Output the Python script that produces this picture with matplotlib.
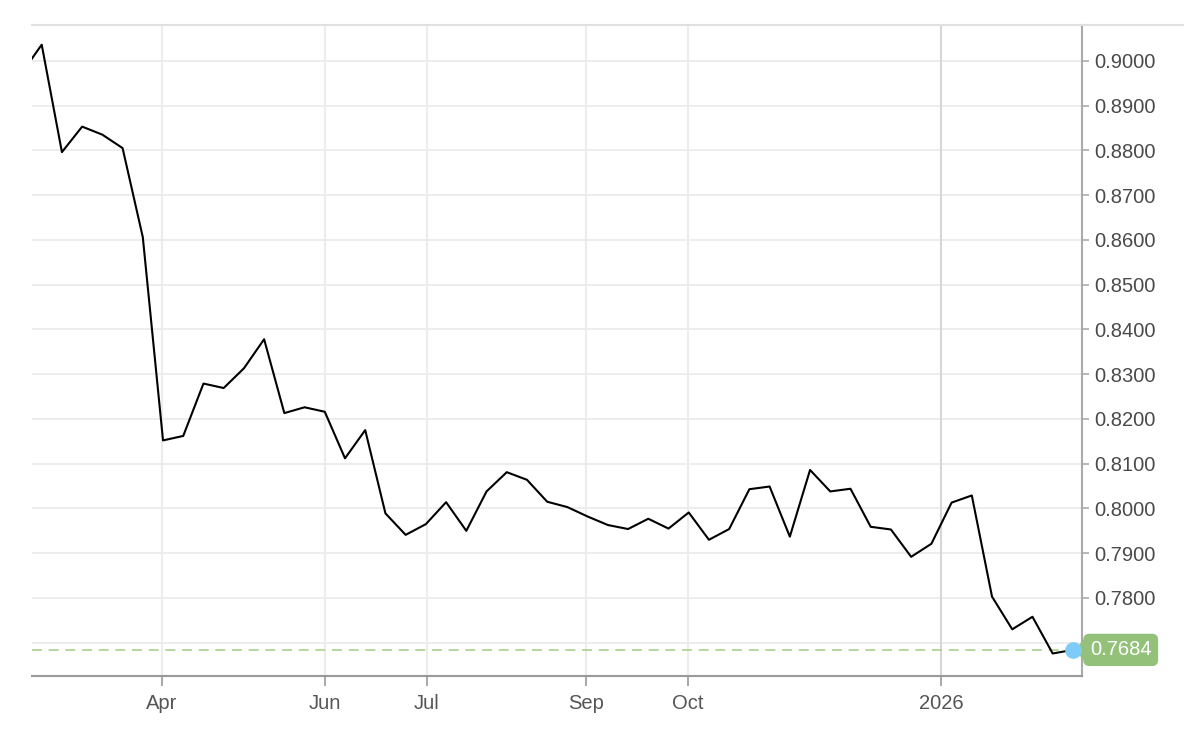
import numpy as np
import matplotlib
matplotlib.use('Agg')
import matplotlib.pyplot as plt
from matplotlib.lines import Line2D
from matplotlib.patches import Polygon

plt.rcParams['font.family'] = ['Liberation Sans', 'DejaVu Sans']

# weekly closing values
values = [0.8972, 0.9036, 0.8796, 0.8853, 0.8835, 0.8805, 0.8606, 0.8152,
          0.8162, 0.8279, 0.8269, 0.8313, 0.8378, 0.8213, 0.8226, 0.8216,
          0.8112, 0.8175, 0.7989, 0.7941, 0.7965, 0.8014, 0.7950, 0.8038,
          0.8081, 0.8064, 0.8015, 0.8003, 0.7982, 0.7963, 0.7954, 0.7977,
          0.7955, 0.7991, 0.7930, 0.7954, 0.8043, 0.8049, 0.7937, 0.8086,
          0.8038, 0.8044, 0.7959, 0.7953, 0.7892, 0.7921, 0.8013, 0.8029,
          0.7803, 0.7730, 0.7758, 0.7676, 0.7684]
last_value = 0.7684

# month labels and where they fall along the weekly index
tick_labels = ['Apr', 'Jun', 'Jul', 'Sep', 'Oct', '2026']
tick_idx = [6.95, 15.0, 20.05, 27.9, 32.95, 45.47]
yticks = np.arange(0.78, 0.9001, 0.01)

x = np.arange(len(values))

fig = plt.figure(figsize=(12, 7.43), dpi=100)
ax = fig.add_axes([32 / 1200, 67 / 743, 1050 / 1200, 651 / 743])

ax.plot(x, values, color='black', lw=1.5, zorder=3)
ax.set_xlim(0.52, 52.45)
ax.set_ylim(0.76257, 0.9080)

# grid
for yv in np.arange(0.77, 0.9001, 0.01):
    ax.axhline(yv, color='#ececec', lw=1.3, zorder=1)
for i, t in zip(tick_idx, tick_labels):
    c = '#d6d6d6' if t == '2026' else '#ececec'
    ax.axvline(i, color=c, lw=1.5, zorder=1)

# last value marker
ax.axhline(last_value, color='#a9d18e', lw=1.2, linestyle=(0, (6, 4)), zorder=2)
ax.plot([x[-1]], [last_value], 'o', color='#7ecbf7', markersize=11,
        clip_on=False, zorder=6)
tr = ax.get_yaxis_transform()
ax.add_patch(Polygon([[0.9935, last_value], [1.004, last_value + 0.0026],
                      [1.004, last_value - 0.0026]], closed=True,
                     transform=tr, color='#93c17a', clip_on=False, zorder=5))
ax.text(1.0075, last_value, '0.7684', transform=tr, ha='left', va='center',
        color='white', fontsize=14.5, zorder=7,
        bbox=dict(boxstyle='round,pad=0.33,rounding_size=0.3',
                  fc='#93c17a', ec='none'))

# axes styling
ax.yaxis.tick_right()
ax.set_yticks(yticks)
ax.set_yticklabels(['{:.4f}'.format(v) for v in yticks])
ax.set_xticks(tick_idx)
ax.set_xticklabels(tick_labels)
ax.tick_params(axis='y', length=5, width=1.2, color='#aaaaaa', pad=4,
               labelsize=14.5, labelcolor='#4a4a4a')
ax.tick_params(axis='x', length=7, width=1.2, color='#999999', pad=6,
               labelsize=14.5, labelcolor='#555555')
ax.spines['left'].set_visible(False)
ax.spines['top'].set_visible(False)
ax.spines['right'].set_color('#aaaaaa')
ax.spines['right'].set_linewidth(1.5)
ax.spines['bottom'].set_color('#999999')
ax.spines['bottom'].set_linewidth(1.5)

# light top border running past the price scale
fig.add_artist(Line2D([32 / 1200, 1183 / 1200], [718 / 743, 718 / 743],
                      color='#e0e0e0', lw=1.5))

fig.savefig('out.png', dpi=100)
